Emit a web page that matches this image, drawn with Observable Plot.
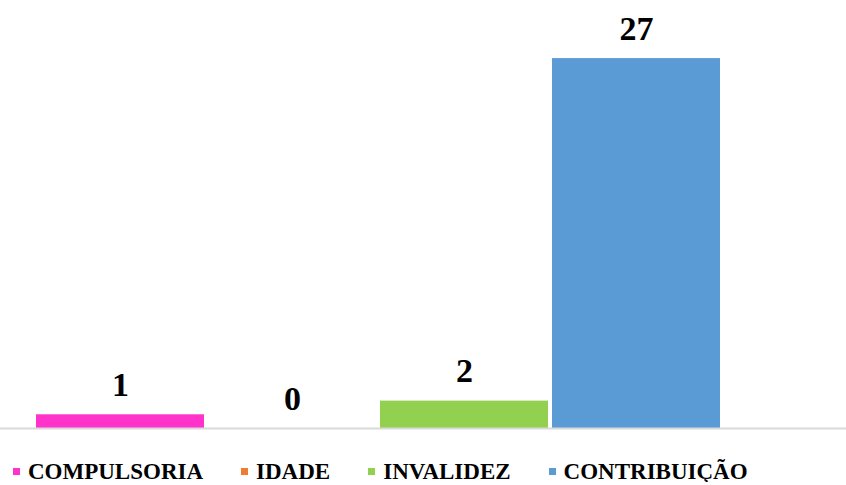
<!DOCTYPE html>
<html>
<head>
<meta charset="utf-8">
<script src="https://cdn.jsdelivr.net/npm/d3@7"></script>
<script src="https://cdn.jsdelivr.net/npm/@observablehq/plot@0.6"></script>
<style>
  html, body { margin: 0; padding: 0; background: #fff; overflow: hidden; }
  #legend { font-family: "Liberation Serif", "Times New Roman", serif; font-weight: bold; font-size: 23px;
            line-height: 20px; height: 20px; padding-top: 22px; padding-left: 13px; white-space: nowrap; color: #000; }
  .item { display: inline-block; margin-right: 38px; }
  .sw { display: inline-block; width: 7px; height: 7px; vertical-align: 4px; margin-right: 8px; }
</style>
</head>
<body>
<div id="chart"></div>
<div id="legend"></div>
<script>
const categories = ["COMPULSORIA", "IDADE", "INVALIDEZ", "CONTRIBUIÇÃO"];
const values = [1, 0, 2, 27];
const colors = ["#FF33CC", "#ED7D31", "#92D050", "#5B9BD5"];

const data = categories.map((c, i) => ({cat: c, value: values[i]}));

const chart = Plot.plot({
  width: 846,
  height: 440,
  marginTop: 0,
  marginBottom: 12,
  marginLeft: 0,
  marginRight: 0,
  style: {background: "#fff"},
  x: {domain: categories, range: [36, 720], paddingInner: 0.0233, paddingOuter: 0, axis: null},
  y: {domain: [0, 31.24], axis: null},
  color: {domain: categories, range: colors},
  marks: [
    Plot.barY(data, {x: "cat", y: "value", fill: "cat"}),
    Plot.ruleY([0], {stroke: "#d9d9d9", strokeWidth: 2}),
    Plot.text(data, {x: "cat", y: "value", text: d => String(d.value), lineAnchor: "bottom", dy: -19,
      fontFamily: "Liberation Serif, Times New Roman, serif", fontWeight: "bold", fontSize: 34, fill: "#000"})
  ]
});
document.getElementById("chart").appendChild(chart);

const legend = document.getElementById("legend");
categories.forEach((c, i) => {
  const item = document.createElement("span");
  item.className = "item";
  const sw = document.createElement("span");
  sw.className = "sw";
  sw.style.background = colors[i];
  item.appendChild(sw);
  item.appendChild(document.createTextNode(c));
  legend.appendChild(item);
});
</script>
</body>
</html>
